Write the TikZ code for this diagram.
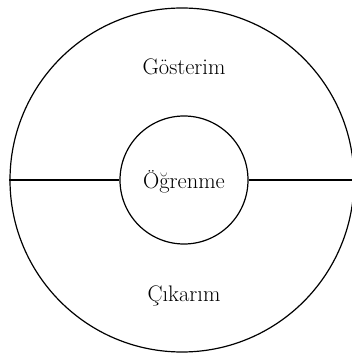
\documentclass[tikz,border=0pt]{standalone}
\begin{document}
\begin{tikzpicture}[x=1pt,y=1pt,
  ring/.style={draw=black,line width=1.2pt,circle,inner sep=0pt},
  lbl/.style={font=\fontsize{22.5}{26}\selectfont,inner sep=0pt}]
\useasboundingbox (0,0) rectangle (351,356);
\fill[white] (0,0) rectangle (351,356);
\node[ring,minimum size=344pt] (big) at (182,176) {};
\node[ring,minimum size=128pt] (small) at (184,176) {};
\node[lbl] (ogr) at (184,174) {Öğrenme};
\node[lbl] (gos) at (184,289) {Gösterim};
\node[lbl] (cik) at (184,60) {Çıkarım};
\draw[line width=1.2pt] (big.west) -- (small.west);
\draw[line width=1.2pt] (small.east) -- (big.east);
\end{tikzpicture}
\end{document}
